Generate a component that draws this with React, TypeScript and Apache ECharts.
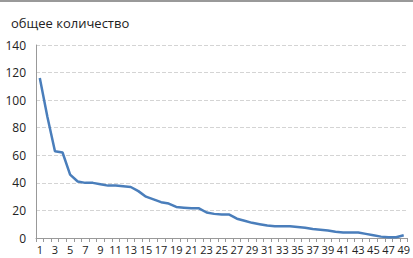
import React, { useEffect, useRef } from "react";
import * as echarts from "echarts";

const categories = Array.from({ length: 49 }, (_, i) => String(i + 1));
const values = [
  116, 88, 63, 62, 46, 41, 40, 40, 39, 38,
  38, 37.5, 37, 34, 30, 28, 26, 25, 22.5, 22,
  21.5, 21.5, 18.5, 17.5, 17, 17, 14, 12.5, 11, 10,
  9, 8.5, 8.5, 8.5, 8, 7.5, 6.5, 6, 5.5, 4.5,
  4, 4, 4, 3, 2, 1, 0.5, 0.5, 2,
];
const titleText = "общее количество";

export default function App() {
  const ref = useRef<HTMLDivElement>(null);
  useEffect(() => {
    if (!ref.current) return;
    const chart = echarts.init(ref.current, null, { renderer: "svg" });
    chart.setOption({
      animation: false,
      backgroundColor: "#ffffff",
      title: {
        text: titleText,
        left: 6,
        top: 11,
        textStyle: { fontFamily: "Open Sans", fontSize: 13, fontWeight: "normal", color: "#222" },
      },
      graphic: [
        { type: "line", shape: { x1: 0, y1: 1, x2: 413, y2: 1 }, style: { stroke: "#999", lineWidth: 2 } },
      ],
      grid: { left: 36, right: 5, top: 45, bottom: 20 },
      xAxis: {
        type: "category",
        data: categories,
        boundaryGap: true,
        axisLine: { lineStyle: { color: "#999" } },
        axisTick: { show: true, interval: 0, length: 4, lineStyle: { color: "#999" } },
        axisLabel: { interval: 1, fontFamily: "Open Sans", fontSize: 11, color: "#222", margin: 6 },
      },
      yAxis: {
        type: "value",
        min: 0,
        max: 140,
        interval: 20,
        axisLine: { show: true, lineStyle: { color: "#999" } },
        axisTick: { show: false },
        axisLabel: { fontFamily: "Open Sans", fontSize: 12, color: "#222", margin: 10 },
        splitLine: { lineStyle: { color: "#d4d4d4", type: [4, 2] } },
      },
      series: [
        {
          type: "line",
          data: values,
          symbol: "none",
          lineStyle: { color: "#4a7ebb", width: 2.5 },
        },
      ],
    });
    return () => chart.dispose();
  }, []);
  return <div ref={ref} style={{ position: "fixed", left: 0, top: 0, width: 413, height: 258 }} />;
}
